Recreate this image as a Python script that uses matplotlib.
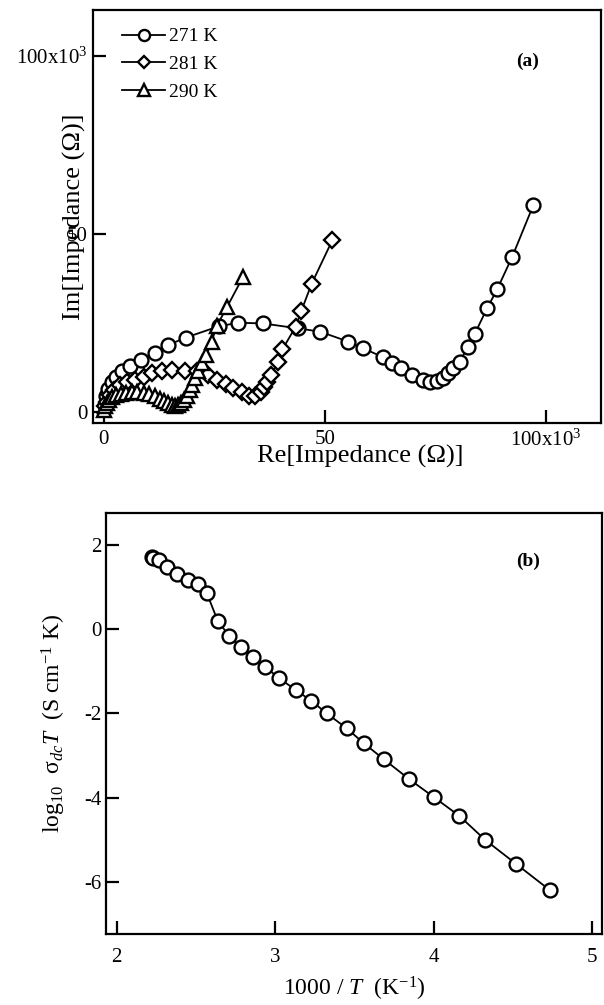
import matplotlib
matplotlib.use("Agg")
import matplotlib.pyplot as plt

plt.rcParams['font.family'] = ['Liberation Serif', 'DejaVu Serif']
plt.rcParams['mathtext.fontset'] = 'custom'
plt.rcParams['mathtext.rm'] = 'Liberation Serif'
plt.rcParams['mathtext.it'] = 'Liberation Serif:italic'
plt.rcParams['mathtext.bf'] = 'Liberation Serif:bold'
plt.rcParams['axes.unicode_minus'] = False

# ---- Panel (a): impedance spectra (values in 10^3 ohm) ----
re_271 = [0.2, 0.5, 1.0, 1.8, 2.8, 4.2, 6.0, 8.5, 11.5, 14.5, 18.5, 26.0, 30.4, 36.0,
          44.0, 48.9, 55.3, 58.7, 63.2, 65.1, 67.3, 69.8, 72.2, 73.8, 75.3, 76.8, 77.9,
          79.0, 80.5, 82.4, 83.9, 86.7, 89.0, 92.4, 97.2]
im_271 = [2.0, 4.5, 6.5, 8.3, 9.8, 11.3, 12.8, 14.6, 16.5, 18.7, 20.8, 24.0, 25.0, 24.8,
          23.4, 22.5, 19.7, 17.8, 15.3, 13.6, 12.2, 10.3, 8.9, 8.4, 8.6, 9.6, 10.8,
          12.2, 14.0, 18.3, 21.8, 29.0, 34.4, 43.5, 58.1]

re_281 = [0.2, 0.7, 1.4, 2.2, 3.7, 5.2, 7.1, 9.0, 10.9, 13.1, 15.4, 18.3, 21.0, 23.6,
          25.7, 27.6, 29.3, 31.2, 32.8, 34.3, 35.5, 36.3, 37.0, 37.9, 39.4, 40.4, 43.4,
          44.7, 47.0, 51.7]
im_281 = [1.5, 2.8, 4.7, 6.1, 7.5, 8.4, 8.9, 9.8, 10.8, 11.4, 11.6, 11.5, 11.3, 10.3,
          9.0, 7.8, 6.6, 5.4, 4.5, 4.4, 5.4, 6.8, 8.2, 10.3, 14.0, 17.5, 23.9,
          28.4, 35.9, 48.2]

re_290 = [0.0, 0.3, 0.7, 1.2, 1.9, 2.8, 3.8, 5.0, 6.3, 7.6, 9.0, 10.3, 11.5, 12.6,
          13.6, 14.5, 15.3, 16.0, 16.7, 17.4, 18.1, 18.8, 19.5, 20.0, 20.6, 21.2, 22.1,
          23.2, 24.4, 25.5, 27.9, 31.5]
im_290 = [0.5, 1.5, 2.5, 3.3, 4.0, 4.6, 5.0, 5.3, 5.5, 5.5, 5.3, 4.9, 4.3, 3.6,
          2.9, 2.3, 1.9, 1.7, 1.8, 2.3, 3.2, 4.5, 6.0, 7.5, 9.5, 11.5, 13.6,
          15.9, 19.7, 24.0, 29.5, 37.9]

labels_a = ['271 K', '281 K', '290 K']
ticks_a = [0, 50, 100]
ticklabels_a = ['0', '50', '100x10$^3$']

# ---- Panel (b): Arrhenius plot ----
inv_T = [2.224, 2.228, 2.265, 2.314, 2.382, 2.450, 2.510, 2.569, 2.637, 2.710, 2.783,
         2.861, 2.936, 3.026, 3.130, 3.227, 3.325, 3.451, 3.560, 3.686, 3.847,
         4.003, 4.163, 4.326, 4.521, 4.732]
log_sigT = [1.708, 1.700, 1.644, 1.485, 1.311, 1.169, 1.074, 0.853, 0.202, -0.162, -0.416,
            -0.668, -0.891, -1.167, -1.445, -1.699, -1.998, -2.354, -2.711, -3.091, -3.566,
            -3.994, -4.438, -5.008, -5.578, -6.196]
xticks_b = [2, 3, 4, 5]
yticks_b = [2, 0, -2, -4, -6]

W, H = 604, 1005
fig = plt.figure(figsize=(W / 100, H / 100), dpi=100)

def frac(l, r, t, b):
    return [l / W, 1 - b / H, (r - l) / W, (b - t) / H]

TICK_FS = 15

def style(ax):
    for s in ax.spines.values():
        s.set_linewidth(1.6)
    ax.tick_params(direction='in', length=9.5, width=1.6, labelsize=TICK_FS,
                   top=False, right=False)

mk = dict(color='black', mfc='white', mec='black', mew=1.7, lw=1.3)

# Panel (a)
ax1 = fig.add_axes(frac(93.3, 601, 10, 422.7))
ax1.plot(re_271, im_271, marker='o', ms=10, label=labels_a[0], **mk)
ax1.plot(re_281, im_281, marker='D', ms=8, label=labels_a[1], **mk)
ax1.plot(re_290, im_290, marker='^', ms=10, label=labels_a[2], **mk)
ax1.set_xlim(-2.4, 112.5)
ax1.set_ylim(-3.1, 112.9)
ax1.set_xticks(ticks_a)
ax1.set_xticklabels(ticklabels_a)
ax1.set_yticks(ticks_a)
ax1.set_yticklabels(ticklabels_a)
style(ax1)
ax1.tick_params(axis='x', pad=5)
ax1.tick_params(axis='y', pad=4)
ax1.set_xlabel('Re[Impedance (Ω)]', fontsize=19)
ax1.xaxis.set_label_coords(0.525, -0.055)
ax1.set_ylabel('Im[Impedance (Ω)]', fontsize=19)
ax1.yaxis.set_label_coords(-0.0144, 0.5)
ax1.legend(loc='upper left', frameon=False, fontsize=14, markerscale=0.8,
           handlelength=2.2, handletextpad=0.2, labelspacing=0.53,
           borderaxespad=0.3, bbox_to_anchor=(0.030, 0.99))
ax1.text(0.855, 0.875, '(a)', transform=ax1.transAxes, fontsize=14,
         fontweight='bold', ha='center', va='center')

# Panel (b)
ax2 = fig.add_axes(frac(106, 602, 512.7, 934.3))
ax2.plot(inv_T, log_sigT, marker='o', ms=10, **mk)
ax2.set_xlim(1.932, 5.063)
ax2.set_ylim(-7.25, 2.77)
ax2.set_xticks(xticks_b)
ax2.set_yticks(yticks_b)
style(ax2)
ax2.tick_params(axis='x', pad=10)
ax2.tick_params(axis='y', pad=3)
ax2.set_xlabel('1000 / $T$  (K$^{-1}$)', fontsize=17, labelpad=5.5)
ax2.set_ylabel('log$_{10}$  σ$_{dc}$$T$  (S cm$^{-1}$ K)', fontsize=17, labelpad=12)
ax2.text(0.851, 0.885, '(b)', transform=ax2.transAxes, fontsize=14,
         fontweight='bold', ha='center', va='center')

fig.savefig('out.png', dpi=100)
